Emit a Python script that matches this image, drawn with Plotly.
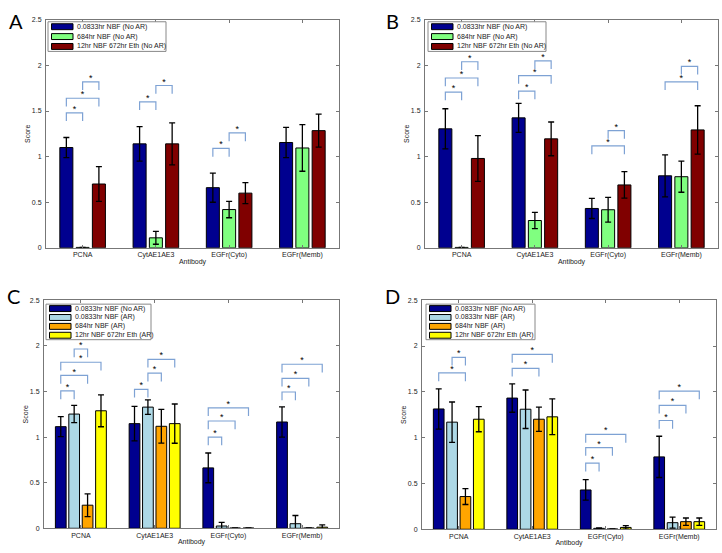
import plotly.graph_objects as go

W, H = 722, 553

categories = ["PCNA", "CytAE1AE3", "EGFr(Cyto)", "EGFr(Memb)"]
yticks = [0, 0.5, 1, 1.5, 2, 2.5]
ytick_labels = ["0", "0.5", "1", "1.5", "2", "2.5"]

series_top = ["0.0833hr NBF (No AR)", "684hr NBF (No AR)", "12hr NBF 672hr Eth (No AR)"]
series_bottom = ["0.0833hr NBF (No AR)", "0.0833hr NBF (AR)", "684hr NBF (AR)", "12hr NBF 672hr Eth (AR)"]
colors_top = ["#00008f", "#80ff80", "#800000"]
colors_bottom = ["#00008f", "#add8e6", "#ffa500", "#ffff00"]

# ---- Panel A ----
a_nbf_short = [1.10, 1.14, 0.66, 1.155]
a_nbf_short_err = [0.11, 0.19, 0.16, 0.165]
a_nbf_long = [0.005, 0.11, 0.42, 1.095]
a_nbf_long_err = [0.0, 0.07, 0.09, 0.255]
a_eth = [0.70, 1.14, 0.60, 1.285]
a_eth_err = [0.19, 0.23, 0.115, 0.18]
a_sig = [(0, 0, 1, 1.48), (0, 0, 2, 1.64), (0, 1, 2, 1.82),
         (1, 0, 1, 1.60), (1, 1, 2, 1.78),
         (2, 0, 1, 1.09), (2, 1, 2, 1.26)]

# ---- Panel B ----
b_nbf_short = [1.305, 1.425, 0.432, 0.79]
b_nbf_short_err = [0.22, 0.16, 0.11, 0.23]
b_nbf_long = [0.005, 0.30, 0.418, 0.78]
b_nbf_long_err = [0.0, 0.09, 0.135, 0.17]
b_eth = [0.98, 1.195, 0.69, 1.293]
b_eth_err = [0.25, 0.185, 0.145, 0.265]
b_sig = [(0, 0, 1, 1.707), (0, 0, 2, 1.862), (0, 1, 2, 2.04),
         (1, 0, 1, 1.718), (1, 0, 2, 1.888), (1, 1, 2, 2.05),
         (2, 0, 2, 1.117), (2, 1, 2, 1.286),
         (3, 0, 2, 1.82), (3, 1, 2, 1.99)]

# ---- Panel C ----
c_noar = [1.114, 1.147, 0.662, 1.165]
c_noar_err = [0.11, 0.19, 0.163, 0.165]
c_ar_short = [1.252, 1.328, 0.025, 0.05]
c_ar_short_err = [0.095, 0.08, 0.04, 0.09]
c_ar_long = [0.253, 1.118, 0.003, 0.003]
c_ar_long_err = [0.125, 0.185, 0.0, 0.0]
c_ar_eth = [1.288, 1.147, 0.003, 0.012]
c_ar_eth_err = [0.175, 0.215, 0.0, 0.025]
c_sig = [(0, 0, 1, 1.505), (0, 0, 2, 1.675), (0, 0, 3, 1.82), (0, 1, 2, 1.965),
         (1, 0, 1, 1.523), (1, 1, 2, 1.70), (1, 1, 3, 1.852),
         (2, 0, 1, 0.999), (2, 0, 2, 1.176), (2, 0, 3, 1.32),
         (3, 0, 1, 1.494), (3, 0, 2, 1.643), (3, 0, 3, 1.798)]

# ---- Panel D ----
d_noar = [1.313, 1.432, 0.429, 0.79]
d_noar_err = [0.22, 0.155, 0.112, 0.225]
d_ar_short = [1.169, 1.31, 0.01, 0.072]
d_ar_short_err = [0.22, 0.21, 0.005, 0.06]
d_ar_long = [0.357, 1.201, 0.003, 0.083]
d_ar_long_err = [0.087, 0.133, 0.0, 0.04]
d_ar_eth = [1.201, 1.227, 0.02, 0.083]
d_ar_eth_err = [0.137, 0.195, 0.02, 0.04]
d_sig = [(0, 0, 2, 1.706), (0, 1, 2, 1.876),
         (1, 0, 2, 1.757), (1, 0, 3, 1.908),
         (2, 0, 1, 0.721), (2, 0, 2, 0.891), (2, 0, 3, 1.035),
         (3, 0, 1, 1.187), (3, 0, 2, 1.353), (3, 0, 3, 1.508)]

panels = [
    dict(label="A", box=(46, 16, 339, 247), names=series_top, colors=colors_top,
         values=[a_nbf_short, a_nbf_long, a_eth], errs=[a_nbf_short_err, a_nbf_long_err, a_eth_err],
         sig=a_sig, legend=(48, 18, 166, 48), lab=(16, 17)),
    dict(label="B", box=(425, 16, 718, 247), names=series_top, colors=colors_top,
         values=[b_nbf_short, b_nbf_long, b_eth], errs=[b_nbf_short_err, b_nbf_long_err, b_eth_err],
         sig=b_sig, legend=(428, 18, 546, 48), lab=(392, 17)),
    dict(label="C", box=(44, 300, 339, 531), names=series_bottom, colors=colors_bottom,
         values=[c_noar, c_ar_short, c_ar_long, c_ar_eth],
         errs=[c_noar_err, c_ar_short_err, c_ar_long_err, c_ar_eth_err],
         sig=c_sig, legend=(46, 304, 151, 340), lab=(13, 296)),
    dict(label="D", box=(422, 300, 716, 532), names=series_bottom, colors=colors_bottom,
         values=[d_noar, d_ar_short, d_ar_long, d_ar_eth],
         errs=[d_noar_err, d_ar_short_err, d_ar_long_err, d_ar_eth_err],
         sig=d_sig, legend=(426, 304, 535, 340), lab=(392, 296)),
]

FONT = "Liberation Sans, Arial, sans-serif"
BRACKET = "#7ea2d4"


def px_x(p):
    return p / W


def px_y(p):
    return 1 - p / H


def geometry(n):
    gw = min(0.8, n / (n + 1.5))
    sp = gw / n
    bw = 0.8 * sp
    centers = [-gw / 2 + sp * (i + 0.5) for i in range(n)]
    return centers, bw


fig = go.Figure()
layout = dict(width=W, height=H, margin=dict(l=0, r=0, t=0, b=0),
              paper_bgcolor="white", plot_bgcolor="white", showlegend=False,
              barmode="overlay", font=dict(family=FONT, size=7, color="#222"))
shapes = []
annotations = []
positions = list(range(1, len(categories) + 1))

for k, p in enumerate(panels):
    sfx = "" if k == 0 else str(k + 1)
    xa, ya = "x" + sfx, "y" + sfx
    n = len(p["names"])
    centers, bw = geometry(n)
    for i in range(n):
        fig.add_trace(go.Bar(
            x=positions, y=p["values"][i], name=p["names"][i],
            offset=centers[i] - bw / 2, width=bw,
            marker=dict(color=p["colors"][i], line=dict(color="black", width=1)),
            error_y=dict(type="data", array=p["errs"][i], color="black", thickness=1.3, width=3),
            xaxis=xa, yaxis=ya))
    # significance brackets
    bx, by, sx, sy = [], [], [], []
    leg = 0.09
    for (c, i, j, h) in p["sig"]:
        x1 = positions[c] + centers[i]
        x2 = positions[c] + centers[j]
        bx += [x1, x1, x2, x2, None]
        by += [h - leg, h, h, h - leg, None]
        sx.append((x1 + x2) / 2)
        sy.append(h + 0.035)
    fig.add_trace(go.Scatter(x=bx, y=by, mode="lines", line=dict(color=BRACKET, width=1.2),
                             hoverinfo="skip", xaxis=xa, yaxis=ya))
    fig.add_trace(go.Scatter(x=sx, y=sy, mode="text", text=["*"] * len(sx),
                             textfont=dict(family=FONT, size=9, color="black"),
                             textposition="middle center", hoverinfo="skip", xaxis=xa, yaxis=ya))
    x0, y0, x1p, y1p = p["box"]
    axis_common = dict(showline=True, linecolor="#777", linewidth=1, mirror="allticks",
                       ticks="inside", ticklen=3, tickcolor="#777", showgrid=False,
                       zeroline=False, tickfont=dict(family=FONT, size=7, color="#222"))
    layout["xaxis" + sfx] = dict(axis_common, domain=[px_x(x0), px_x(x1p)], range=[0.5, 4.5],
                                 tickmode="array", tickvals=positions, ticktext=categories,
                                 anchor=ya, ticklabelstandoff=0,
                                 title=dict(text="Antibody", font=dict(family=FONT, size=7, color="#222"),
                                            standoff=0))
    layout["yaxis" + sfx] = dict(axis_common, domain=[px_y(y1p), px_y(y0)], range=[0, 2.5],
                                 tickmode="array", tickvals=yticks, ticktext=ytick_labels,
                                 anchor=xa, ticklabelstandoff=2,
                                 title=dict(text="Score", font=dict(family=FONT, size=7, color="#222"),
                                            standoff=0))
    # manual legend (box, swatches, labels)
    lx0, ly0, lx1, ly1 = p["legend"]
    shapes.append(dict(type="rect", xref="paper", yref="paper", layer="above",
                       x0=px_x(lx0), x1=px_x(lx1), y0=px_y(ly1), y1=px_y(ly0),
                       fillcolor="white", line=dict(color="#888", width=1)))
    rowh = (ly1 - ly0) / n
    for i in range(n):
        cy = ly0 + rowh * (i + 0.5)
        shapes.append(dict(type="rect", xref="paper", yref="paper", layer="above",
                           x0=px_x(lx0 + 3.5), x1=px_x(lx0 + 25), y0=px_y(cy + 3), y1=px_y(cy - 3),
                           fillcolor=p["colors"][i], line=dict(color="black", width=1)))
        annotations.append(dict(xref="paper", yref="paper", x=px_x(lx0 + 27), y=px_y(cy),
                                xanchor="left", yanchor="middle", showarrow=False,
                                text=p["names"][i], font=dict(family=FONT, size=7, color="#222")))
    annotations.append(dict(xref="paper", yref="paper", x=px_x(p["lab"][0]), y=px_y(p["lab"][1]),
                            xanchor="center", yanchor="middle", showarrow=False, text=p["label"],
                            font=dict(family="Lato, sans-serif", size=20, color="black")))

layout["shapes"] = shapes
layout["annotations"] = annotations
fig.update_layout(**layout)
fig.write_html("out.html", config={"displayModeBar": False},
               post_script="document.body.style.margin='0';document.body.style.padding='0';"
                           "document.documentElement.style.overflow='hidden';")
